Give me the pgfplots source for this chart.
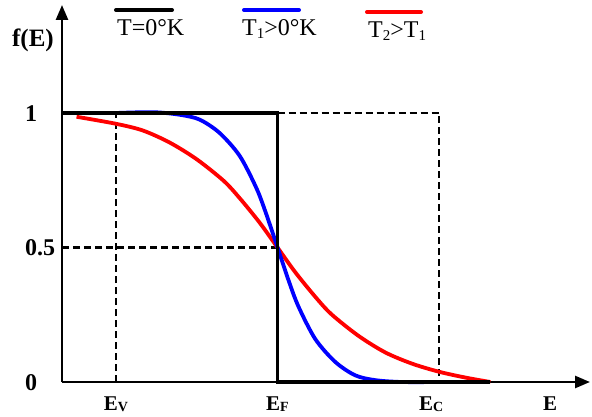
\documentclass[border=0pt]{standalone}
\usepackage{fontspec}
\setmainfont{Liberation Serif}
\usepackage{pgfplots}
\pgfplotsset{compat=1.18}
\usetikzlibrary{arrows.meta}
\newcommand{\sub}[1]{\raisebox{-1.5pt}{\fontsize{14}{14}\selectfont #1}}
\newcommand{\lsub}[1]{\raisebox{-2.5pt}{\fontsize{15}{15}\selectfont #1}}
\begin{document}
\begin{tikzpicture}
\useasboundingbox (-62pt,-34pt) rectangle (530pt,382pt);
\begin{axis}[
  at={(0pt,0pt)}, anchor=south west,
  scale only axis, width=528pt, height=377pt,
  xmin=0, xmax=9.8, ymin=0, ymax=1.4015,
  enlargelimits=false,
  axis lines=left,
  axis line style={line width=2.6pt, -{Triangle[length=15pt,width=12pt]}},
  clip=false,
  xtick={1,4,6.85,9.06},
  xticklabels={E\sub{V},E\sub{F},E\sub{C},E},
  ytick={0,0.5,1},
  yticklabels={0,0.5,1},
  major tick length=0pt,
  xticklabel style={anchor=base, inner sep=0pt, yshift=-28pt, font=\fontsize{21}{24}\selectfont\bfseries},
  yticklabel style={anchor=base west, inner sep=0pt, xshift=-37pt, yshift=-8pt, font=\fontsize{24}{28}\selectfont\bfseries},
]
% dashed guide lines
\addplot[black, line width=2.6pt, dash pattern=on 7pt off 4pt] coordinates {(1,0) (1,1)};
\addplot[black, line width=2.6pt, dash pattern=on 7pt off 4pt] coordinates {(0,0.5) (4,0.5)};
\addplot[black, line width=2.6pt, dash pattern=on 7pt off 4pt] coordinates {(4,1) (7,1) (7,0)};
% T2 > T1
\addplot[red, line width=3.8pt, smooth] coordinates {
 (0.27,0.986) (1.0,0.960) (1.5,0.935) (2.0,0.890) (2.5,0.828) (3.0,0.748)
 (3.3,0.683) (3.67,0.592) (4.0,0.5) (4.33,0.408) (4.7,0.317) (5.0,0.252)
 (5.5,0.172) (6.0,0.110) (6.5,0.068) (7.0,0.038) (7.5,0.016) (7.95,0.0)};
% T1 > 0
\addplot[blue, line width=3.8pt, smooth] coordinates {
 (1.0,1.0) (1.7,1.003) (2.2,0.993) (2.56,0.975) (2.93,0.925) (3.3,0.84)
 (3.61,0.72) (3.79,0.625) (4.0,0.5) (4.21,0.375) (4.39,0.28) (4.7,0.16)
 (5.07,0.075) (5.44,0.025) (5.81,0.007) (6.3,0.0) (7.0,0.0)};
% T = 0 K
\addplot[black, line width=3.6pt] coordinates {(0,1) (4,1) (4,0) (7.95,0)};
\end{axis}
% legend
\draw[black, line width=4pt, line cap=round] (54pt,372pt) -- (110pt,372pt);
\draw[blue, line width=4pt, line cap=round] (182pt,372pt) -- (237pt,372pt);
\draw[red, line width=4pt, line cap=round] (305pt,370pt) -- (359pt,370pt);
\node[anchor=base west, inner sep=0pt, font=\fontsize{24}{28}\selectfont] at (55pt,346pt) {T=0°K};
\node[anchor=base west, inner sep=0pt, font=\fontsize{24}{28}\selectfont] at (180pt,346pt) {T\lsub{1}>0°K};
\node[anchor=base west, inner sep=0pt, font=\fontsize{24}{28}\selectfont] at (306pt,344pt) {T\lsub{2}>T\lsub{1}};
\node[anchor=base, inner sep=0pt, font=\fontsize{25}{29}\selectfont\bfseries] at (-29pt,335pt) {f(E)};
\end{tikzpicture}
\end{document}
